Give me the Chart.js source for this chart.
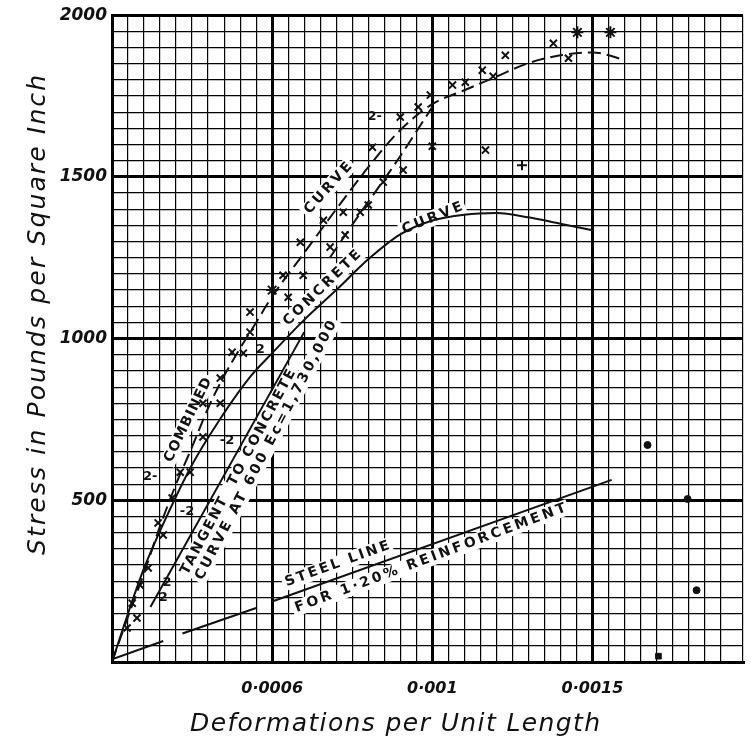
<!DOCTYPE html>
<html>
<head>
<meta charset="utf-8">
<script src="https://cdn.jsdelivr.net/npm/chart.js@4.4.1/dist/chart.umd.min.js"></script>
<style>
	body { margin: 0; background: #fff; }
	#wrap { width: 751px; height: 741px; }
</style>
</head>
<body>
<div id="wrap"><canvas id="stressChart" width="751" height="741"></canvas></div>
<script>
// tick labels (the first x label really reads 0·0006 on the original sheet)
var xTickValues = [0.0005, 0.001, 0.0015];
var xTickLabels = ['0·0006', '0·001', '0·0015'];
var yTickValues = [500, 1000, 1500, 2000];
var yTickLabels = ['500', '1000', '1500', '2000'];

// combined curve (dashed)
var combinedX = [0, 0.00005, 0.0001, 0.00015, 0.0002, 0.00025, 0.0003, 0.00035, 0.0004, 0.00045, 0.0005, 0.0006, 0.0007, 0.0008, 0.0009, 0.001, 0.0011, 0.0012, 0.0013, 0.0014, 0.0015, 0.0016];
var combinedY = [0, 140, 275, 420, 550, 665, 785, 885, 970, 1050, 1130, 1265, 1400, 1530, 1645, 1725, 1768, 1810, 1852, 1876, 1885, 1862];

// second dashed branch
var branchX = [0.00068, 0.00078, 0.00088, 0.001];
var branchY = [1250, 1395, 1535, 1716];

// concrete curve
var concreteX = [0, 0.00005, 0.0001, 0.00018, 0.00025, 0.00033, 0.00043, 0.0005, 0.0006, 0.0007, 0.0008, 0.0009, 0.001, 0.0011, 0.0012, 0.0013, 0.0014, 0.0015];
var concreteY = [0, 150, 290, 470, 610, 740, 880, 955, 1058, 1150, 1245, 1322, 1365, 1383, 1388, 1375, 1355, 1335];

// tangent at 600, Ec = 1,730,000
var tangentX = [0.00012, 0.0006];
var tangentY = [170, 1020];

// steel line, 1.20% reinforcement (broken where lettered)
var steelX = [0, 0.00016, 0.00019, 0.00022, 0.00045, 0.00048, 0.0005, 0.00156];
var steelY = [8, 65, null, 88, 167, null, 187, 563];

// observed points
var crossX = [0.000047, 0.000063, 0.000078, 0.0000875, 0.000113, 0.000144, 0.00016, 0.000188, 0.000213, 0.000244, 0.000284, 0.000338, 0.000284, 0.000338, 0.000375, 0.00041, 0.000431, 0.000431, 0.00055, 0.000534, 0.000597, 0.000588, 0.00066, 0.000681, 0.000728, 0.000722, 0.000775, 0.0008, 0.000813, 0.000847, 0.000909, 0.0009, 0.000956, 0.000994, 0.001, 0.001063, 0.001103, 0.001156, 0.00119, 0.001166, 0.001228, 0.001378, 0.001425];
var crossY = [105, 182, 136, 238, 291, 430, 393, 507, 587, 587, 800, 800, 696, 878, 958, 955, 1020, 1082, 1128, 1196, 1196, 1298, 1366, 1283, 1320, 1391, 1391, 1413, 1592, 1484, 1521, 1685, 1716, 1753, 1595, 1784, 1793, 1830, 1811, 1583, 1876, 1913, 1867];
var starX = [0.0005, 0.001453, 0.001556];
var starY = [1150, 1947, 1947];
var plusX = [0.00128];
var plusY = [1536];
var dotX = [0.001672, 0.001797, 0.001825];
var dotY = [671, 504, 222];
var squareX = [0.001706];
var squareY = [18];

// "2" marks beside specimen 2 readings
var twoX = [0.00082, 0.000463, 0.000359, 0.000119, 0.000234, 0.000172, 0.00016];
var twoY = [1685, 967, 686, 572, 464, 244, 198];
var twoText = ['2-', '2', '-2', '2-', '-2', '2', '2'];

function pts(xs, ys) {
	var out = [];
	for (var i = 0; i < xs.length; i++) {
		out.push({x: xs[i], y: ys[i]});
	}
	return out;
}

function isMajor(v, step) {
	var r = v / step;
	return Math.abs(r - Math.round(r)) < 1e-6;
}

function labelFor(v, values, labels) {
	for (var i = 0; i < values.length; i++) {
		if (Math.abs(v - values[i]) < values[i] * 1e-6) return labels[i];
	}
	return '';
}

// draws text centred on the origin, stretched to a given width with letter spacing
function fitText(ctx, text, width) {
	ctx.textAlign = 'left';
	ctx.letterSpacing = '0px';
	var w = ctx.measureText(text).width;
	var ls = (width - w) / Math.max(text.length - 1, 1);
	ctx.letterSpacing = ls.toFixed(2) + 'px';
	ctx.fillText(text, -width / 2, 0);
	ctx.letterSpacing = '0px';
}

// lettering along the curves: data position, angle (deg), width px
var curveLabels = [
	{t: 'COMBINED', x: 0.0002375, y: 748, a: -64, w: 92},
	{t: 'CURVE', x: 0.000675, y: 1465, a: -48, w: 64},
	{t: 'CONCRETE', x: 0.000656, y: 1156, a: -44, w: 102},
	{t: 'CURVE', x: 0.001, y: 1372, a: -22, w: 64},
	{t: 'TANGENT  TO CONCRETE', x: 0.000394, y: 587, a: -62, w: 230},
	{t: 'CURVE AT 600 Ec=1,730,000', x: 0.000481, y: 654, a: -62.5, w: 290},
	{t: 'STEEL LINE', x: 0.000703, y: 303, a: -20, w: 110},
	{t: 'FOR 1·20% REINFORCEMENT', x: 0.000994, y: 321, a: -20.5, w: 288}
];

var lettering = {
	id: 'lettering',
	beforeDatasetsDraw: function(chart) {
		var ctx = chart.ctx, xs = chart.scales.x, ys = chart.scales.y;
		ctx.save();
		ctx.fillStyle = '#fff';
		curveLabels.forEach(function(l) {
			ctx.save();
			ctx.translate(xs.getPixelForValue(l.x), ys.getPixelForValue(l.y));
			ctx.rotate(l.a * Math.PI / 180);
			ctx.fillRect(-l.w / 2 - 3, -8, l.w + 6, 16);
			ctx.restore();
		});
		ctx.restore();
	},
	afterDatasetsDraw: function(chart) {
		var ctx = chart.ctx, xs = chart.scales.x, ys = chart.scales.y;
		ctx.save();
		ctx.fillStyle = '#111';
		ctx.textBaseline = 'middle';
		ctx.font = 'bold 14px "DejaVu Sans"';
		curveLabels.forEach(function(l) {
			ctx.save();
			ctx.translate(xs.getPixelForValue(l.x), ys.getPixelForValue(l.y));
			ctx.rotate(l.a * Math.PI / 180);
			fitText(ctx, l.t, l.w);
			ctx.restore();
		});
		ctx.textAlign = 'center';
		ctx.font = 'bold 13px "DejaVu Sans"';
		for (var i = 0; i < twoX.length; i++) {
			ctx.fillText(twoText[i], xs.getPixelForValue(twoX[i]), ys.getPixelForValue(twoY[i]));
		}
		// axis titles
		ctx.font = 'italic 25px "DejaVu Sans"';
		ctx.save();
		ctx.translate(395, 724);
		fitText(ctx, 'Deformations per Unit Length', 410);
		ctx.restore();
		ctx.save();
		ctx.translate(38, 315);
		ctx.rotate(-Math.PI / 2);
		fitText(ctx, 'Stress in Pounds per Square Inch', 480);
		ctx.restore();
		ctx.restore();
	}
};

var lineDefaults = {showLine: true, pointRadius: 0, borderColor: '#111', borderWidth: 2, fill: false};

new Chart(document.getElementById('stressChart').getContext('2d'), {
	type: 'scatter',
	data: {
		datasets: [
			Object.assign({label: 'Combined curve', data: pts(combinedX, combinedY), borderDash: [13, 6], cubicInterpolationMode: 'monotone'}, lineDefaults),
			Object.assign({label: 'Combined branch', data: pts(branchX, branchY), borderDash: [13, 6], cubicInterpolationMode: 'monotone'}, lineDefaults),
			Object.assign({label: 'Concrete curve', data: pts(concreteX, concreteY), cubicInterpolationMode: 'monotone'}, lineDefaults),
			Object.assign({label: 'Tangent', data: pts(tangentX, tangentY)}, lineDefaults),
			Object.assign({label: 'Steel line', data: pts(steelX, steelY), spanGaps: false}, lineDefaults),
			{label: 'Readings', data: pts(crossX, crossY), pointStyle: 'crossRot', pointRadius: 5, borderColor: '#111', borderWidth: 2},
			{label: 'Readings *', data: pts(starX, starY), pointStyle: 'star', pointRadius: 6, borderColor: '#111', borderWidth: 2},
			{label: 'Readings +', data: pts(plusX, plusY), pointStyle: 'cross', pointRadius: 5, borderColor: '#111', borderWidth: 2},
			{label: 'Dots', data: pts(dotX, dotY), pointStyle: 'circle', pointRadius: 3.5, backgroundColor: '#111', borderColor: '#111', borderWidth: 1},
			{label: 'Square', data: pts(squareX, squareY), pointStyle: 'rect', pointRadius: 4, backgroundColor: '#111', borderColor: '#111'}
		]
	},
	options: {
		responsive: false,
		animation: false,
		layout: {padding: {top: 15, right: 6, left: 0, bottom: 0}},
		plugins: {legend: {display: false}, tooltip: {enabled: false}},
		scales: {
			x: {
				type: 'linear',
				min: 0,
				max: 0.00197,
				afterFit: function(scale) {
					scale.height = 79;
					scale.paddingLeft = 0;
					scale.paddingRight = 0;
				},
				border: {display: true, color: '#000', width: 3},
				grid: {
					color: '#000',
					drawTicks: false,
					lineWidth: function(c) { return isMajor(c.tick.value, 0.0005) ? 3 : 1.2; }
				},
				ticks: {
					stepSize: 0.00005,
					autoSkip: false,
					maxRotation: 0,
					padding: 17,
					color: '#111',
					font: {family: '"DejaVu Sans"', size: 16, style: 'italic', weight: 'bold'},
					callback: function(v) { return labelFor(v, xTickValues, xTickLabels); }
				}
			},
			y: {
				type: 'linear',
				min: 0,
				max: 2000,
				afterFit: function(scale) { scale.width = 112; },
				border: {display: true, color: '#000', width: 3},
				grid: {
					color: '#000',
					drawTicks: false,
					lineWidth: function(c) { return isMajor(c.tick.value, 500) ? 3 : 1.2; }
				},
				ticks: {
					stepSize: 50,
					autoSkip: false,
					padding: 5,
					color: '#111',
					font: {family: '"DejaVu Sans"', size: 17, style: 'italic', weight: 'bold'},
					callback: function(v) { return labelFor(v, yTickValues, yTickLabels); }
				}
			}
		}
	},
	plugins: [lettering]
});
</script>
</body>
</html>
